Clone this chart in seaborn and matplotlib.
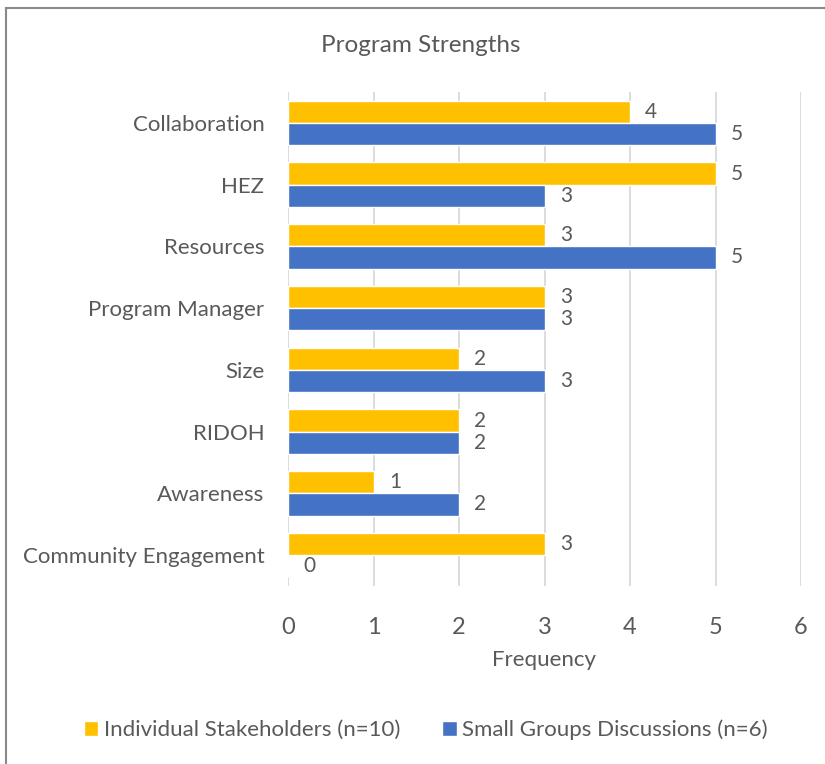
import matplotlib
matplotlib.use("Agg")
import matplotlib.pyplot as plt
import seaborn as sns
import pandas as pd
from matplotlib.patches import Rectangle

categories = ["Collaboration", "HEZ", "Resources", "Program Manager", "Size",
              "RIDOH", "Awareness", "Community Engagement"]
individual = [4, 5, 3, 3, 2, 2, 1, 3]
small_groups = [5, 3, 5, 3, 3, 2, 2, 0]
series_names = ["Individual Stakeholders (n=10)", "Small Groups Discussions (n=6)"]
x_ticks = [0, 1, 2, 3, 4, 5, 6]

df = pd.DataFrame({
    "Category": categories * 2,
    "Frequency": individual + small_groups,
    "Series": [series_names[0]] * len(categories) + [series_names[1]] * len(categories),
})

sns.set_theme(style="white")
plt.rcParams["font.family"] = ["Lato", "DejaVu Sans"]
TXT = "#595959"

fig = plt.figure(figsize=(8.25, 7.64), dpi=100)
ax = fig.add_axes([288/825, 1-586/764, (801-288)/825, (586-92)/764])

sns.barplot(data=df, x="Frequency", y="Category", hue="Series", orient="h",
            palette=["#FFC000", "#4472C4"], saturation=1, width=0.72,
            edgecolor="white", linewidth=1, ax=ax, legend=True)

for cont in ax.containers:
    ax.bar_label(cont, fmt="%d", padding=11, fontsize=15, color=TXT)

ax.set_xlim(0, 6)
ax.set_xticks(x_ticks)
ax.set_xticklabels([str(t) for t in x_ticks])
ax.grid(axis="x", color="#D9D9D9", linewidth=1.3)
ax.grid(axis="y", visible=False)
ax.set_axisbelow(True)
for s in ax.spines.values():
    s.set_visible(False)
ax.tick_params(axis="x", length=0, pad=22, labelsize=17, labelcolor=TXT)
ax.tick_params(axis="y", length=0, pad=17, labelsize=16, labelcolor=TXT)
ax.set_ylabel("")
ax.set_xlabel("Frequency", fontsize=16, color=TXT, labelpad=9)

handles, labels = ax.get_legend_handles_labels()
ax.get_legend().remove()
fig.legend(handles, labels, loc="center", bbox_to_anchor=(426/825, 1-730/764),
           ncol=2, frameon=False, fontsize=16, labelcolor=TXT,
           handlelength=0.65, handleheight=0.65, handletextpad=0.25,
           columnspacing=1.9)

fig.text(421/825, 1-46/764, "Program Strengths", ha="center", va="center",
         fontsize=17.5, color=TXT)

fig.patches.append(Rectangle((6/825, -0.1), 1.2, 1 - 8/764 + 0.1,
                             transform=fig.transFigure, fill=False,
                             edgecolor="#898989", linewidth=1.5))

fig.savefig("out.png", dpi=100)
